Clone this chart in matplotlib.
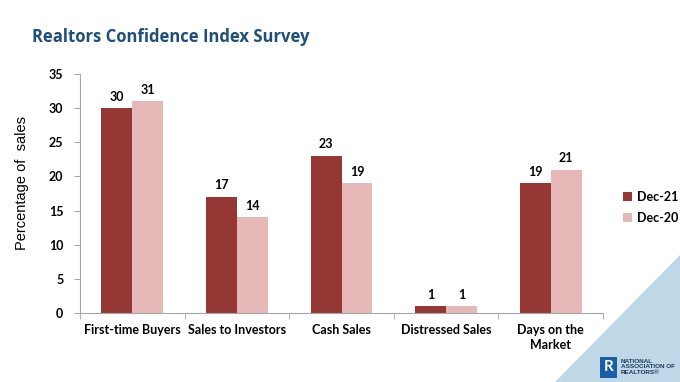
import matplotlib
matplotlib.use("Agg")
import matplotlib.pyplot as plt
import numpy as np
from matplotlib.patches import Polygon, Rectangle

categories = ["First-time Buyers", "Sales to Investors", "Cash Sales", "Distressed Sales", "Days on the\nMarket"]
dec21 = [30, 17, 23, 1, 19]
dec20 = [31, 14, 19, 1, 21]
series_names = ["Dec-21", "Dec-20"]
yticks = [0, 5, 10, 15, 20, 25, 30, 35]

c_dark = "#953735"
c_light = "#e6b9b8"
FONT = ["Lato", "DejaVu Sans"]

fig = plt.figure(figsize=(6.8, 3.82), dpi=100)

# decorative blue triangle bottom right
tri = Polygon([(555/680, 0), (1, 0), (1, 1 - 255/382)], closed=True,
              transform=fig.transFigure, facecolor="#bfd8e8", edgecolor="none", zorder=0)
fig.patches.append(tri)

ax = fig.add_axes([80/680, 1 - 313/382, (603 - 80)/680, (313 - 74)/382])
ax.set_facecolor("none")

x = np.arange(len(categories))
w = 0.295
b1 = ax.bar(x - w/2, dec21, width=w, color=c_dark, label=series_names[0], zorder=2)
b2 = ax.bar(x + w/2, dec20, width=w, color=c_light, label=series_names[1], zorder=2)

for bars, vals in ((b1, dec21), (b2, dec20)):
    for r, v in zip(bars, vals):
        ax.text(r.get_x() + r.get_width()/2, v + 0.8, f"{v}", ha="center", va="bottom",
                fontsize=9, fontweight="bold", family=FONT)

ax.set_xlim(-0.5, len(categories) - 0.5)
ax.set_ylim(0, 35)
ax.set_yticks(yticks)
ax.set_yticklabels([str(t) for t in yticks], fontsize=9, fontweight="bold", family=FONT)
ax.set_xticks(x)
ax.set_xticklabels(categories, fontsize=9, fontweight="bold", family=FONT, linespacing=1.3)
ax.tick_params(axis="x", length=0, pad=8)
ax.set_xticks(np.arange(len(categories) + 1) - 0.5, minor=True)
ax.tick_params(axis="x", which="minor", length=4, color="#a6a6a6", direction="out")
ax.tick_params(axis="y", length=4, color="#a6a6a6", pad=8)

for s in ["top", "right"]:
    ax.spines[s].set_visible(False)
for s in ["left", "bottom"]:
    ax.spines[s].set_color("#a6a6a6")

fig.text(22/680, 1 - 183/382, "Percentage of  sales", rotation=90, ha="center", va="center",
         fontsize=10.5, family=["Liberation Sans Narrow", "Liberation Sans", "DejaVu Sans"],
         fontstretch="condensed")

fig.text(32/680, 1 - 37/382, "Realtors Confidence Index Survey", ha="left", va="center",
         fontsize=12, fontweight="bold", color="#1f4e79", family=["Open Sans", "DejaVu Sans"])

fig.legend(handles=[b1, b2], labels=series_names, loc="upper left",
           bbox_to_anchor=(612/680, 1 - 180/382), frameon=False,
           prop={"family": FONT, "weight": "bold", "size": 9},
           handlelength=0.7, handleheight=0.7, handletextpad=0.4, labelspacing=0.7)

# NAR logo
fig.patches.append(Rectangle((600/680, 1 - 378/382), 17/680, 21/382, transform=fig.transFigure,
                             facecolor="#1a5ea8", edgecolor="none", zorder=3))
fig.text(608.5/680, 1 - 367/382, "R", ha="center", va="center", color="white", fontsize=11,
         fontweight="bold", family=FONT, zorder=4)
fig.text(621/680, 1 - 367/382, "NATIONAL\nASSOCIATION OF\nREALTORS\u00ae", ha="left", va="center",
         fontsize=4.6, fontweight="bold", color="#1f3a5f", family=["Liberation Sans", "DejaVu Sans"],
         linespacing=1.05, zorder=4)

fig.savefig("out.png", dpi=100)
